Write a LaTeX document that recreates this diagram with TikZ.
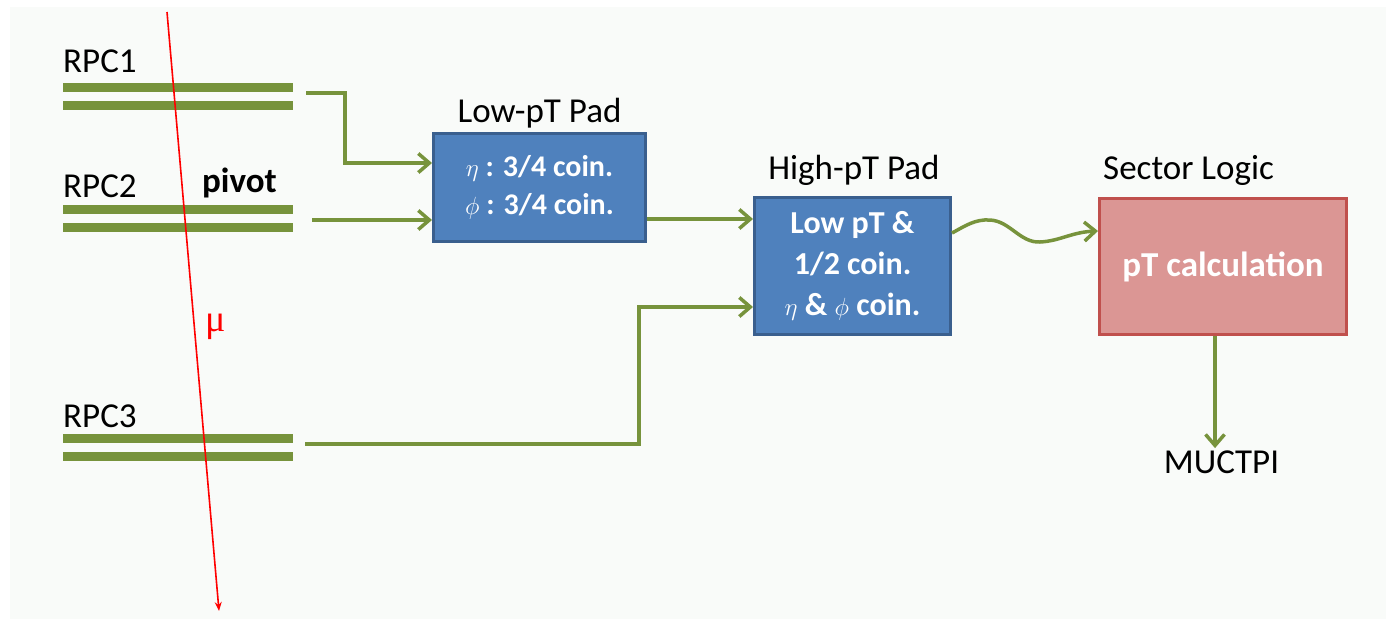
\documentclass[tikz,border=0pt]{standalone}
\usepackage{fontspec}
\setmainfont{Carlito}
\newfontfamily\muserif{Liberation Serif}
\usetikzlibrary{arrows.meta}
\definecolor{olive}{HTML}{77933C}
\definecolor{boxblue}{HTML}{4F81BD}
\definecolor{boxblueline}{HTML}{3A5F8E}
\definecolor{boxpink}{HTML}{DB9694}
\definecolor{boxpinkline}{HTML}{C0504D}
\definecolor{bgpanel}{HTML}{F9FBF9}
\tikzset{
  bar/.style={rectangle, fill=olive, draw=none, inner sep=0pt, minimum width=230pt, minimum height=9pt},
  conn/.style={draw=olive, line width=3.5pt, -{Straight Barb[length=11pt,width=19pt]}},
  lbl/.style={inner sep=0pt, font=\fontsize{35}{42}\selectfont, text=black},
  bluebox/.style={rectangle, fill=boxblue, draw=boxblueline, line width=3pt, inner sep=0pt, text=white, align=center},
  pinkbox/.style={rectangle, fill=boxpink, draw=boxpinkline, line width=3pt, inner sep=0pt, text=white, align=center},
  muline/.style={draw=red, line width=1.6pt, -{Stealth[length=9pt,width=7pt]}}
}
\begin{document}
\begin{tikzpicture}[x=1pt,y=-1pt]
\useasboundingbox (0,0) rectangle (1391,622);
\fill[white] (0,0) rectangle (1391,622);
\fill[bgpanel] (10,7) rectangle (1386,619);

% RPC bars
\node[bar] (r1a) at (178,87.5) {};
\node[bar] (r1b) at (178,105) {};
\node[bar] (r2a) at (178,209) {};
\node[bar] (r2b) at (178,227) {};
\node[bar] (r3a) at (178,438) {};
\node[bar] (r3b) at (178,456) {};

% labels
\node[lbl, anchor=base west] (l1) at (63,72) {RPC1};
\node[lbl, anchor=base west] (l2) at (63,197) {RPC2};
\node[lbl, anchor=base west] (l3) at (63,427) {RPC3};
\node[lbl, anchor=base west, font=\fontsize{35}{42}\selectfont\bfseries] (piv) at (202,192) {pivot};

% boxes
\node[bluebox, minimum width=212pt, minimum height=108pt, font=\fontsize{30}{38}\selectfont\bfseries] (lowpad) at (539.5,187.5)
  {$\eta$ : 3/4 coin.\\ $\phi$ : 3/4 coin.};
\node[lbl, anchor=base] (lowlbl) at (539.5,122) {Low-pT Pad};

\node[bluebox, minimum width=196pt, minimum height=137pt, font=\fontsize{32}{41}\selectfont\bfseries] (highpad) at (852.5,266)
  {Low pT \&\\ 1/2 coin.\\ $\eta$ \& $\phi$ coin.};
\node[lbl, anchor=base] (highlbl) at (854,179) {High-pT Pad};

\node[pinkbox, minimum width=247pt, minimum height=136pt, font=\fontsize{35}{40}\selectfont\bfseries] (sector) at (1223,266.5) {pT calculation};
\node[lbl, anchor=base west] (seclbl) at (1103,179) {Sector Logic};

\node[lbl, anchor=base] (muctpi) at (1221.5,473) {MUCTPI};

% connectors
\coordinate (r1out) at (306,93);
\coordinate (r2out) at (312,220);
\coordinate (r3out) at (305,444);
\draw[conn] (r1out) -- (345,93) |- ([yshift=24.5pt]lowpad.west);
\draw[conn] (r2out) -- ([yshift=-32.5pt]lowpad.west);
\draw[conn] ([yshift=-31.5pt]lowpad.east) -- ([yshift=47pt]highpad.west);
\draw[conn] (r3out) -- (639,444) |- ([yshift=-41pt]highpad.west);
\draw[conn] ([yshift=33pt]highpad.east) .. controls (965,226) and (975,219) .. (990,220)
  .. controls (1010,221) and (1020,243) .. (1040,242)
  .. controls (1060,241) and (1072,232) .. ([yshift=35.5pt]sector.west);
\draw[conn, shorten >=2pt] ([xshift=-8pt]sector.south) -- ([xshift=-8pt]sector.south |- muctpi.north);

% muon track
\coordinate (mutop) at (167,12);
\coordinate (mubot) at (219,611);
\draw[muline] (mutop) -- (mubot);
\node[inner sep=0pt, anchor=base west, text=red, font=\fontsize{38}{40}\selectfont\muserif] (mu) at (205,331) {μ};
\end{tikzpicture}
\end{document}
